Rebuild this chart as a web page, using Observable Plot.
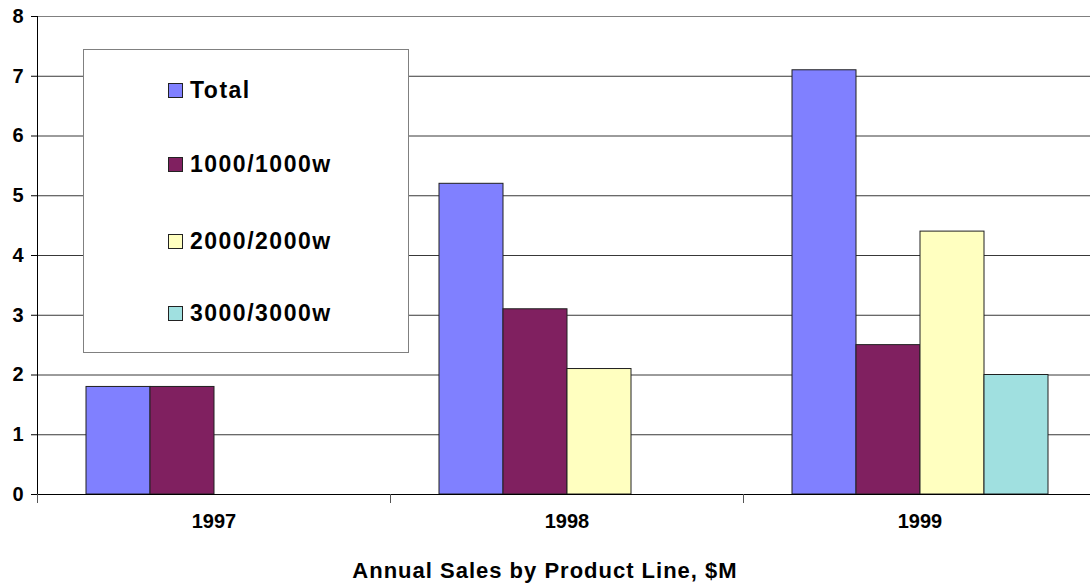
<!DOCTYPE html>
<html>
<head>
<meta charset="utf-8">
<script src="https://cdn.jsdelivr.net/npm/d3@7"></script>
<script src="https://cdn.jsdelivr.net/npm/@observablehq/plot@0.6"></script>
<style>
  html, body { margin: 0; padding: 0; background: #fff; overflow: hidden; }
  #wrap { position: relative; width: 1090px; height: 587px; overflow: hidden; font-family: "Liberation Sans", Arial, sans-serif; }
  #chart svg { max-width: none !important; display: block; }
  #chart svg text { font-size: 20px; font-weight: bold; fill: #000; }
  #legend { position: absolute; left: 83px; top: 49px; width: 324px; height: 302px; border: 1.5px solid #808080; background: #fff; }
  .item { position: absolute; left: 84px; height: 24px; display: flex; align-items: center; font-weight: bold; font-size: 23px; letter-spacing: 1.5px; color: #000; }
  .sw { width: 13px; height: 13px; border: 1px solid #222; margin-right: 7px; }
  #title { position: absolute; left: 0; width: 1090px; top: 558px; text-align: center; font-weight: bold; font-size: 22px; letter-spacing: 1px; color: #000; }
</style>
</head>
<body>
<div id="wrap">
  <div id="chart"></div>
  <div id="legend"></div>
  <div id="title"></div>
</div>
<script>
const years = ["1997", "1998", "1999"];
const seriesNames = ["Total", "1000/1000w", "2000/2000w", "3000/3000w"];
const seriesColors = ["#8080FF", "#802060", "#FFFFC0", "#A0E0E0"];
const totalValues = [1.8, 5.2, 7.1];
const w1000Values = [1.8, 3.1, 2.5];
const w2000Values = [null, 2.1, 4.4];
const w3000Values = [null, null, 2.0];
const yTicks = [0, 1, 2, 3, 4, 5, 6, 7, 8];
const titleText = "Annual Sales by Product Line, $M";

const seriesValues = [totalValues, w1000Values, w2000Values, w3000Values];
const data = [];
years.forEach((yr, i) => {
  seriesNames.forEach((s, j) => {
    const v = seriesValues[j][i];
    if (v != null) data.push({year: yr, series: s, value: v});
  });
});

const W = 1096, marginLeft = 37, marginRight = 0;
const facetStep = (W - marginLeft - marginRight) / years.length;

const chart = Plot.plot({
  width: W,
  height: 545,
  marginLeft,
  marginRight,
  marginTop: 16,
  marginBottom: 51,
  style: {fontFamily: "Liberation Sans, Arial, sans-serif", fontSize: "20px", fontWeight: "bold", color: "#000", background: "transparent", maxWidth: "none"},
  fx: {domain: years, padding: 0, axis: null, label: null},
  x: {domain: seriesNames, paddingInner: 0, paddingOuter: 0.74, axis: null},
  y: {domain: [0, 8], axis: null},
  color: {domain: seriesNames, range: seriesColors},
  marks: [
    Plot.ruleY(yTicks.filter(d => d > 0 && d < 8), {stroke: "#383838", strokeWidth: 1}),
    Plot.ruleY([8], {stroke: "#808080", strokeWidth: 1}),
    Plot.barY(data, {fx: "year", x: "series", y: "value", fill: "series", stroke: "#202020", strokeWidth: 1}),
    Plot.ruleY([0], {stroke: "#000", strokeWidth: 1}),
    Plot.gridFx({ticks: [years[0]], dx: -facetStep / 2, stroke: "#000", strokeOpacity: 1, strokeWidth: 1}),
    Plot.axisFx({anchor: "bottom", ticks: years, text: null, tickSize: 9, dx: -facetStep / 2, stroke: "#555", strokeWidth: 1, label: null}),
    Plot.axisFx({anchor: "bottom", ticks: years, tickSize: 0, tickPadding: 19, fontSize: 20, fontWeight: "bold", label: null}),
    Plot.axisY({ticks: yTicks, tickSize: 6, tickPadding: 8, fontSize: 20, fontWeight: "bold", tickFormat: d => String(d), label: null, stroke: "#000"})
  ]
});
document.getElementById("chart").appendChild(chart);

const legend = document.getElementById("legend");
const rowTops = [28, 102, 179, 251];
seriesNames.forEach((s, j) => {
  const it = document.createElement("div");
  it.className = "item";
  it.style.top = rowTops[j] + "px";
  const sw = document.createElement("div");
  sw.className = "sw";
  sw.style.background = seriesColors[j];
  const tx = document.createElement("span");
  tx.textContent = s;
  it.appendChild(sw);
  it.appendChild(tx);
  legend.appendChild(it);
});
document.getElementById("title").textContent = titleText;
</script>
</body>
</html>
